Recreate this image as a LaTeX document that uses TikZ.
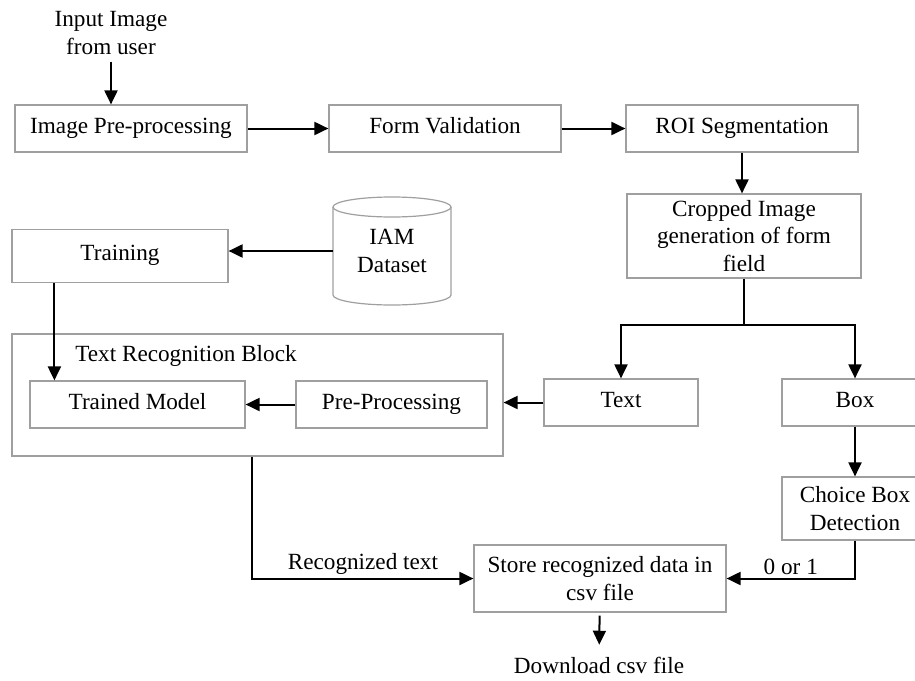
\documentclass[tikz,border=0pt]{standalone}
\usepackage{fontspec}
\setmainfont{Liberation Serif}
\usepackage{tikz}
\usetikzlibrary{arrows.meta}

\begin{document}
\begin{tikzpicture}[
        x=0.5pt, y=-0.5pt,
        every node/.style={font=\fontsize{11.6}{13.8}\selectfont, align=center},
        block/.style={draw=gray!75, line width=0.6pt, minimum height=23.5pt, inner sep=2pt},
        oneline/.style={text height=0.7em, text depth=0.22em},
        arrow/.style={-{Triangle[length=7pt,width=6.5pt]}, line width=1pt},
        link/.style={line width=1pt}
      ]

      \useasboundingbox (0,0) rectangle (915,680);

      % top row
      \node (input) at (111,33) {Input Image\\from user};
      \node[block, oneline, minimum width=116pt] (imgpre) at (131,128.5) {Image Pre-processing};
      \node[block, oneline, minimum width=116pt] (formval) at (445,128.5) {Form Validation};
      \node[block, oneline, minimum width=116pt] (roi) at (742,128.5) {ROI Segmentation};
      \node[block, minimum width=117pt, minimum height=42pt] (crop) at (744,236)
        {Cropped Image\\generation of form\\field};

      % training branch
      \node[block, oneline, minimum width=108pt, minimum height=26.5pt] (training) at (120,256) {Training};
      \node[minimum width=59pt, minimum height=54pt, inner sep=0pt] (iam) at (392,251) {IAM\\Dataset};
      \draw[draw=gray!75, line width=0.6pt] (392,207) ellipse[x radius=59, y radius=10];
      \draw[draw=gray!75, line width=0.6pt] (333,207) -- (333,295)
        arc[start angle=180, end angle=0, x radius=59, y radius=10] -- (451,207);

      % text recognition block
      \node[block, minimum width=245.5pt, minimum height=61pt] (trbox) at (257.5,395) {};
      \node[oneline] (trbtitle) at (186,357) {Text Recognition Block};
      \node[block, oneline, minimum width=107.5pt] (trained) at (137.5,404.5) {Trained Model};
      \node[block, oneline, minimum width=95.5pt] (preproc) at (391.5,404.5) {Pre-Processing};

      % field types
      \node[block, oneline, minimum width=77pt] (text) at (621,402.5) {Text};
      \node[block, oneline, minimum width=73pt] (box) at (855,402.5) {Box};
      \node[block, minimum width=73pt, minimum height=31.5pt] (choice) at (855,508.5) {Choice Box\\Detection};

      % output
      \node[block, minimum width=126pt, minimum height=33.5pt] (store) at (600,578.5)
        {Store recognized data in\\csv file};
      \node[oneline] (download) at (599,669) {Download csv file};

      \draw[arrow] (input.south) -- (input.south |- imgpre.north);
      \draw[arrow] (imgpre) -- (formval);
      \draw[arrow] (formval) -- (roi);
      \draw[arrow] (roi.south) -- (roi.south |- crop.north);
      \draw[arrow] (iam.west) -- (iam.west -| training.east);
      \draw[arrow] ([xshift=21.5pt]training.south west) -- ([xshift=21.5pt]training.south west |- trained.north);
      \draw[arrow] (preproc) -- (trained);
      \draw[link] (crop.south) -- ++(0,46) coordinate (split);
      \draw[arrow] (split) -| (text.north);
      \draw[arrow] (split) -| (box.north);
      \draw[arrow] (text.west) -- (text.west -| trbox.east);
      \draw[arrow] (box) -- (choice);
      \draw[arrow] ([xshift=120.5pt]trbox.south west) |- (store.west)
        node[above, pos=0.75, inner sep=1.5pt] {Recognized text};
      \draw[arrow] (choice.south) |- (store.east)
        node[above, pos=0.75, inner sep=1.5pt] {0 or 1};
      \draw[arrow, shorten <=1.5pt, shorten >=4pt] (store) -- (download);

    \end{tikzpicture}
\end{document}
